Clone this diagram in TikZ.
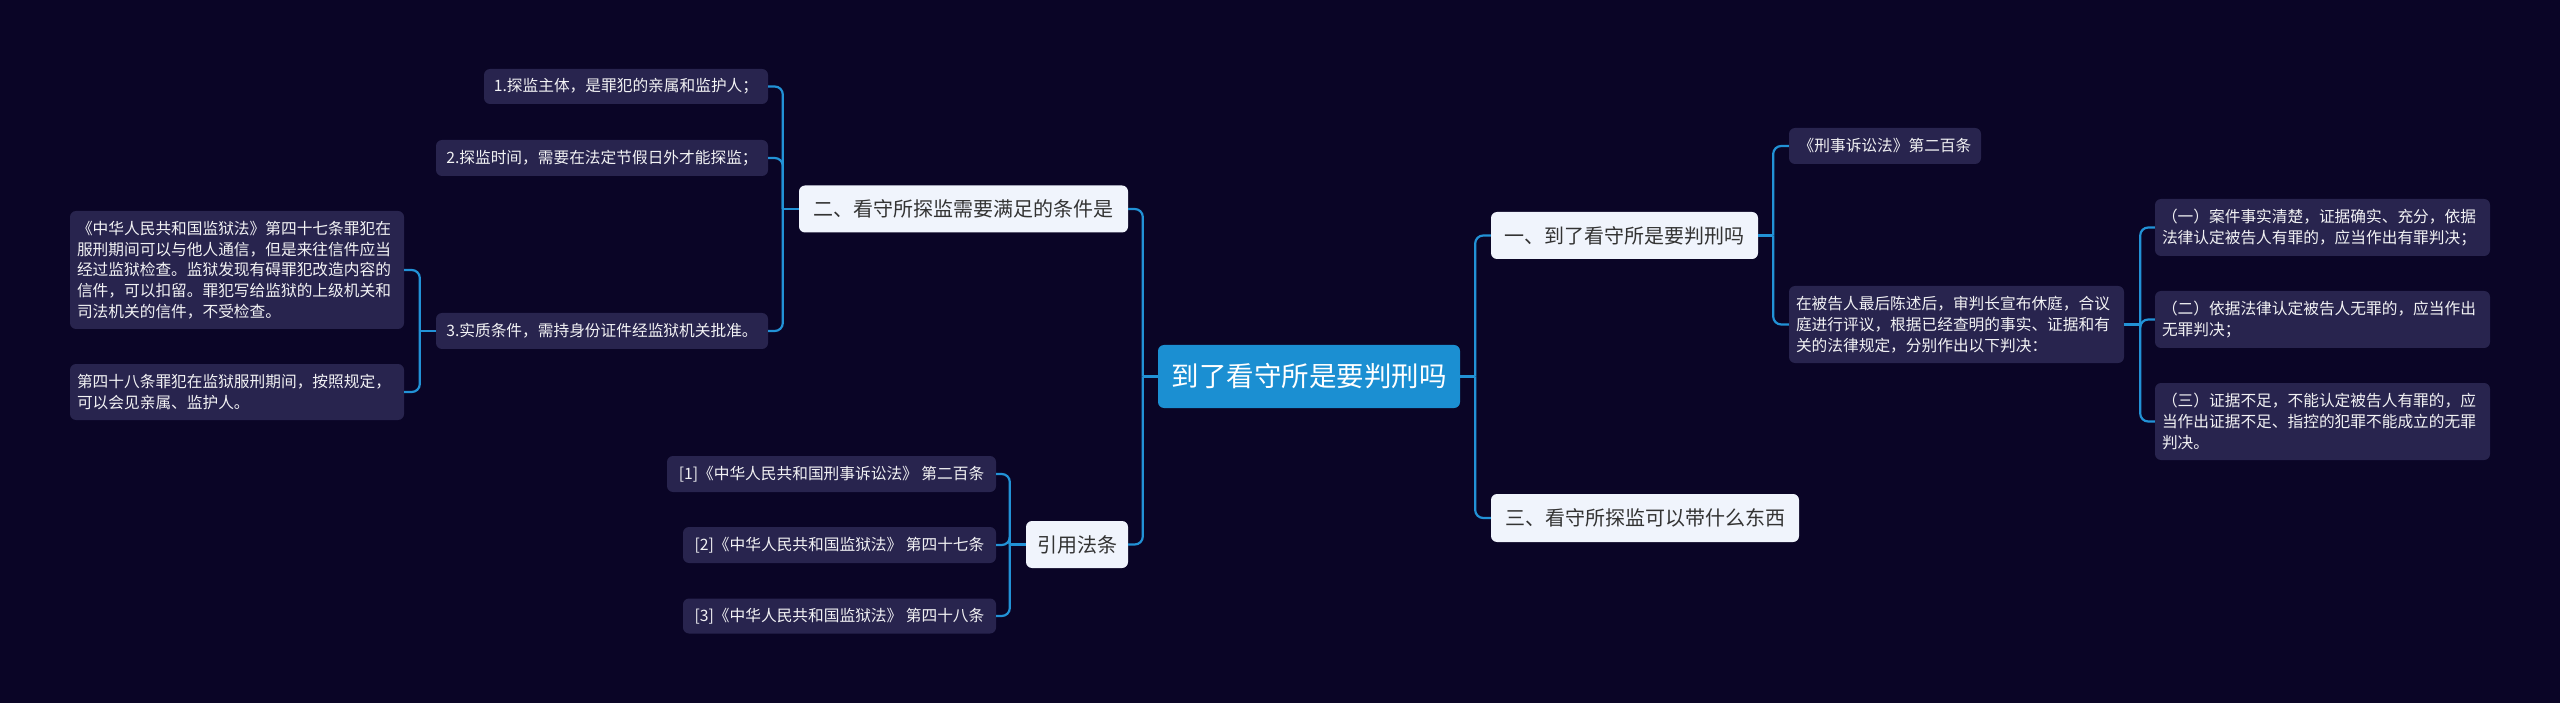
\documentclass[tikz,border=0pt]{standalone}
\usepackage{fontspec}
\setmainfont{Noto Sans CJK SC}
\definecolor{myBg}{RGB}{10,5,38}
\definecolor{myBlue}{RGB}{27,143,210}
\definecolor{myLine}{RGB}{34,146,214}
\definecolor{myLeaf}{RGB}{40,36,78}
\definecolor{myPale}{RGB}{240,244,252}
\definecolor{myInk}{RGB}{51,51,51}
\usetikzlibrary{positioning}

\begin{document}
\begin{tikzpicture}[x=1pt,y=-1pt,
    root/.style={fill=myBlue,text=white,rounded corners=6pt,minimum height=63pt,font=\fontsize{27.5}{32}\selectfont},
    topic/.style={fill=myPale,text=myInk,rounded corners=6pt,minimum height=47pt,font=\fontsize{20}{24}\selectfont},
    leaf/.style={fill=myLeaf,text=white!94!myLeaf,rounded corners=6pt,inner xsep=7pt,align=left,font=\fontsize{15.7}{20.7}\selectfont},
    link/.style={draw=myLine,line width=2.2pt,rounded corners=8pt}]

    \fill[myBg] (0,0) rectangle (2560,703);

    % centre and main topics
    \node[root,minimum width=302pt] (root) at (1309,376.5) {到了看守所是要判刑吗};
    \node[topic,minimum width=329pt] (n2) at (963.5,209) {二、看守所探监需要满足的条件是};
    \node[topic,minimum width=102pt] (nref) at (1077,544.5) {引用法条};
    \node[topic,minimum width=267pt] (n1) at (1624.5,235.5) {一、到了看守所是要判刑吗};
    \node[topic,minimum width=308pt,minimum height=48pt] (n3) at (1645,518) {三、看守所探监可以带什么东西};

    % left branch
    \node[leaf,minimum width=284pt,minimum height=35pt] (a1) at (626,86.5) {1.探监主体，是罪犯的亲属和监护人；};
    \node[leaf,minimum width=332pt,minimum height=36pt] (a2) at (602,158) {2.探监时间，需要在法定节假日外才能探监；};
    \node[leaf,minimum width=332pt,minimum height=36pt] (a3) at (602,331) {3.实质条件，需持身份证件经监狱机关批准。};
    \node[leaf,text width=320pt,minimum height=118pt] (b1) at (237,270) {《中华人民共和国监狱法》第四十七条罪犯在\\服刑期间可以与他人通信，但是来往信件应当\\经过监狱检查。监狱发现有碍罪犯改造内容的\\信件，可以扣留。罪犯写给监狱的上级机关和\\司法机关的信件，不受检查。};
    \node[leaf,text width=320pt,minimum height=56pt] (b2) at (237,392) {第四十八条罪犯在监狱服刑期间，按照规定，\\可以会见亲属、监护人。};

    \node[leaf,minimum width=329pt,minimum height=36pt] (r1) at (831.5,474) {[1]《中华人民共和国刑事诉讼法》 第二百条};
    \node[leaf,minimum width=313pt,minimum height=36pt] (r2) at (839.5,545) {[2]《中华人民共和国监狱法》 第四十七条};
    \node[leaf,minimum width=313pt,minimum height=35pt] (r3) at (839.5,616) {[3]《中华人民共和国监狱法》 第四十八条};

    % right branch
    \node[leaf,minimum width=192pt,minimum height=36pt] (c1) at (1885,146) {《刑事诉讼法》第二百条};
    \node[leaf,text width=321pt,minimum height=77pt] (c2) at (1956.5,324.5) {在被告人最后陈述后，审判长宣布休庭，合议\\庭进行评议，根据已经查明的事实、证据和有\\关的法律规定，分别作出以下判决：};
    \node[leaf,text width=321pt,minimum height=57pt] (d1) at (2322.5,227.5) {（一）案件事实清楚，证据确实、充分，依据\\法律认定被告人有罪的，应当作出有罪判决；};
    \node[leaf,text width=321pt,minimum height=57pt] (d2) at (2322.5,319.5) {（二）依据法律认定被告人无罪的，应当作出\\无罪判决；};
    \node[leaf,text width=321pt,minimum height=77pt] (d3) at (2322.5,421.5) {（三）证据不足，不能认定被告人有罪的，应\\当作出证据不足、指控的犯罪不能成立的无罪\\判决。};

    % junctions
    \coordinate (jl) at ([xshift=-15pt]root.west);
    \coordinate (jr) at ([xshift=15pt]root.east);
    \coordinate (j2) at ([xshift=-16pt]n2.west);
    \coordinate (j3) at ([xshift=-16pt]a3.west);
    \coordinate (jref) at ([xshift=-16pt]nref.west);
    \coordinate (j1) at ([xshift=15pt]n1.east);
    \coordinate (jc) at ([xshift=16pt]c2.east);

    % connectors
    \draw[link] (root.west) -- (jl);
    \draw[link] (jl) |- (n2.east);
    \draw[link] (jl) |- (nref.east);
    \draw[link] (root.east) -- (jr);
    \draw[link] (jr) |- (n1.west);
    \draw[link] (jr) |- (n3.west);

    \draw[link] (n2.west) -- (j2);
    \foreach \k in {a1,a2,a3} \draw[link] (j2) |- (\k.east);
    \draw[link] (a3.west) -- (j3);
    \foreach \k in {b1,b2} \draw[link] (j3) |- (\k.east);
    \draw[link] (nref.west) -- (jref);
    \foreach \k in {r1,r2,r3} \draw[link] (jref) |- (\k.east);

    \draw[link] (n1.east) -- (j1);
    \foreach \k in {c1,c2} \draw[link] (j1) |- (\k.west);
    \draw[link] (c2.east) -- (jc);
    \foreach \k in {d1,d2,d3} \draw[link] (jc) |- (\k.west);
\end{tikzpicture}
\end{document}
